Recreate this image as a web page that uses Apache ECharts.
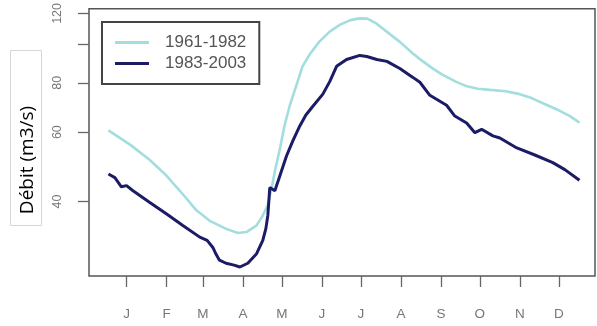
<!DOCTYPE html>
<html>
<head>
<meta charset="utf-8">
<script src="https://cdn.jsdelivr.net/npm/echarts@6/dist/echarts.min.js"></script>
<style>html,body{margin:0;padding:0;background:#fff;}#c{width:597px;height:326px;}</style>
</head>
<body>
<div id="c"></div>
<script>
// Day of year (x) and discharge (m3/s)
const daysLight = [1,18,33,46,60,69,79,92,101,108,115.5,120,124,127,130,133.5,137,141,146,151,157,164,172,180,188,195,201,208,221,226,236,244,252,259,269,278,286.5,296,308,319,328,338,348,357.6,365];
const valuesLight = [60.6,55.7,51.0,46.5,41.2,38.0,35.8,34.1,33.3,33.5,34.8,36.7,39.1,43.1,48.4,54.4,62.2,69.8,78.4,88.1,95.0,101.8,107.9,112.4,115.4,116.6,116.4,113.2,104.8,101.8,95.1,90.7,86.8,83.9,80.7,78.4,77.3,76.8,76.2,74.9,73.2,70.7,68.4,65.9,63.4];
const daysDark = [1,6,11,15,20,33,46,58.5,71.6,77.3,81.7,84.2,86.8,91.9,98.1,102.6,108.7,115.5,120.3,122.7,124.2,125.7,129.6,133.5,138.6,143.5,148.9,153.6,159,166.7,172.1,177.3,185,195.3,200.7,208.4,216.2,226.2,236.3,241.7,249.4,262.3,268.7,277.8,284.2,289.4,298.1,303.5,316.6,330.5,344.4,353.7,365];
const valuesDark = [47.0,46.0,43.6,43.9,42.6,39.8,37.2,34.8,32.5,31.9,30.6,29.4,28.4,27.9,27.6,27.3,27.9,29.5,31.9,34.2,36.9,43.4,42.6,46.5,52.2,57.0,62.2,66.3,69.8,74.9,80.7,88.1,91.7,93.9,93.3,91.7,90.7,87.0,82.6,80.3,74.4,70.2,65.9,63.3,59.8,61.0,58.7,58.0,54.7,52.5,50.2,48.2,45.3];
const seriesNames = ['1961-1982','1983-2003'];
const monthTicks = [15,46,74,105,135,166,196,227,258,288,319,349];
const monthLabels = ['J','F','M','A','M','J','J','A','S','O','N','D'];
const yTickValues = [40,60,80,100,120];
const yLabelValues = [40,60,80,120];
const yAxisTitle = 'Débit (m3/s)';

const zip = (a, b) => a.map((d, i) => [d, b[i]]);

const chart = echarts.init(document.getElementById('c'), null, {renderer: 'canvas'});
chart.setOption({
  animation: false,
  backgroundColor: '#ffffff',
  grid: {left: 89, right: 2, top: 7, bottom: 50, show: true, borderColor: '#555', borderWidth: 1.5, backgroundColor: 'transparent'},
  xAxis: {
    type: 'value', min: -14, max: 377,
    axisLine: {show: false, onZero: false},
    splitLine: {show: false},
    axisTick: {show: true, inside: false, length: 11, lineStyle: {color: '#666', width: 1.3}, customValues: monthTicks},
    axisLabel: {
      customValues: monthTicks, margin: 31, color: '#777', fontSize: 13.5,
      fontFamily: 'Liberation Sans, Arial, sans-serif',
      formatter: v => monthLabels[monthTicks.indexOf(v)] || ''
    }
  },
  yAxis: {
    type: 'log', min: 25.9, max: 123.3,
    axisLine: {show: false, onZero: false},
    splitLine: {show: false},
    axisTick: {show: true, inside: false, length: 11, lineStyle: {color: '#666', width: 1.3}, customValues: yTickValues},
    axisLabel: {customValues: yLabelValues, rotate: 90, margin: 25, color: '#777', fontSize: 12.5,
      fontFamily: 'Liberation Sans, Arial, sans-serif', formatter: v => String(Math.round(v))}
  },
  legend: {
    orient: 'vertical', left: 102, top: 22,
    borderColor: '#444', borderWidth: 2, backgroundColor: '#fff',
    padding: [12, 13, 12, 13], itemGap: 4,
    itemWidth: 34, itemHeight: 3, icon: 'rect',
    textStyle: {fontSize: 17, color: '#555', padding: [0, 0, 0, 11], fontFamily: 'Liberation Sans, Arial, sans-serif'},
    data: seriesNames
  },
  series: [
    {name: seriesNames[0], type: 'line', showSymbol: false, symbol: 'none', smooth: false,
     lineStyle: {color: '#a2dede', width: 2.6}, itemStyle: {color: '#a2dede'}, data: zip(daysLight, valuesLight)},
    {name: seriesNames[1], type: 'line', showSymbol: false, symbol: 'none', smooth: false,
     lineStyle: {color: '#1c1c66', width: 3}, itemStyle: {color: '#1c1c66'}, data: zip(daysDark, valuesDark)}
  ],
  graphic: [
    {type: 'rect', left: 10, top: 50, shape: {width: 31, height: 175}, style: {fill: '#fff', stroke: '#d6d6d6', lineWidth: 1}},
    {type: 'text', x: 27.5, y: 160, rotation: Math.PI / 2,
     style: {text: yAxisTitle, fill: '#000', fontSize: 19, fontFamily: 'Open Sans, sans-serif', align: 'center', verticalAlign: 'middle'}}
  ]
});
</script>
</body>
</html>
